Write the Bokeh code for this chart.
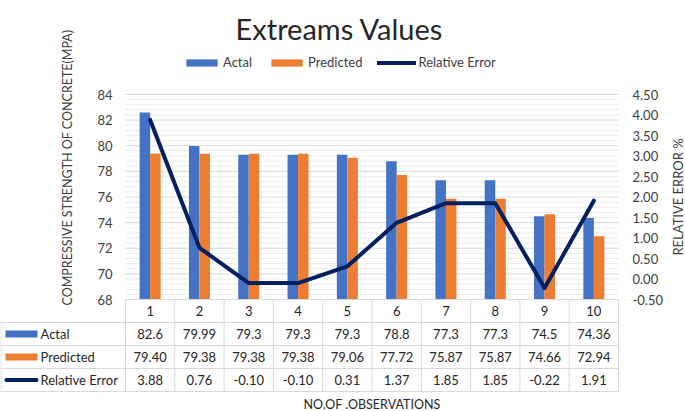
from bokeh.plotting import figure
from bokeh.models import Range1d, ColumnDataSource
from bokeh.transform import dodge
from bokeh.embed import file_html
from bokeh.resources import INLINE
from bokeh.core.properties import value

# ---------------- data ----------------
observations = [1, 2, 3, 4, 5, 6, 7, 8, 9, 10]
obs_labels = ["1", "2", "3", "4", "5", "6", "7", "8", "9", "10"]
actal = [82.6, 79.99, 79.3, 79.3, 79.3, 78.8, 77.3, 77.3, 74.5, 74.36]
predicted = [79.40, 79.38, 79.38, 79.38, 79.06, 77.72, 75.87, 75.87, 74.66, 72.94]
rel_error = [3.88, 0.76, -0.10, -0.10, 0.31, 1.37, 1.85, 1.85, -0.22, 1.91]
series_names = ["Actal", "Predicted", "Relative Error"]
title_text = "Extreams Values"
y_title = "COMPRESSIVE STRENGTH OF CONCRETE(MPA)"
y2_title = "RELATIVE ERROR %"
x_title = "NO.OF .OBSERVATIONS"
y_ticks = [68, 70, 72, 74, 76, 78, 80, 82, 84]
y_tick_labels = ["68", "70", "72", "74", "76", "78", "80", "82", "84"]
e_ticks = [-0.5, 0.0, 0.5, 1.0, 1.5, 2.0, 2.5, 3.0, 3.5, 4.0, 4.5]
e_tick_labels = ["-0.50", "0.00", "0.50", "1.00", "1.50", "2.00", "2.50", "3.00", "3.50", "4.00", "4.50"]
minor_per_major = 5

# ---------------- style / layout ----------------
BLUE = "#4472C4"
ORANGE = "#ED7D31"
NAVY = "#002060"
GRID = "#D9D9D9"
MINOR = "#EDEDED"
TXT = "#404040"
CELL = "#262626"
FONT = "Lato"

W, H = 685, 411
N = len(observations)
LEFT = 125          # left edge of the plot area / first table column (px)
COL_W = 49.3        # width of one category (px)
PLOT_TOP, PLOT_BOT = 94, 299
ROW_H = 23
BAR_W = 0.213

y_min, y_max = y_ticks[0], y_ticks[-1]
e_min, e_max = e_ticks[0], e_ticks[-1]
X_START = 0.5 - LEFT / COL_W
X_END = X_START + W / COL_W
PX_Y = (PLOT_BOT - PLOT_TOP) / (y_max - y_min)
PX_E = (PLOT_BOT - PLOT_TOP) / (e_max - e_min)

src = ColumnDataSource(dict(x=observations, actal=actal, predicted=predicted, err=rel_error))

p = figure(width=W, height=H, output_backend="svg", toolbar_location=None,
           x_range=Range1d(X_START, X_END),
           y_range=Range1d(y_min - (H - PLOT_BOT) / PX_Y, y_max + PLOT_TOP / PX_Y),
           min_border_left=0, min_border_right=0, min_border_top=0, min_border_bottom=0,
           x_axis_location=None, y_axis_location=None)
p.outline_line_color = None
p.grid.visible = False
p.extra_y_ranges = {"err": Range1d(e_min - (H - PLOT_BOT) / PX_E, e_max + PLOT_TOP / PX_E),
                    "px": Range1d(H, 0)}
p.extra_x_ranges = {"px": Range1d(0, W)}

# gridlines (major + minor) of the value axis
step = y_ticks[1] - y_ticks[0]
minor = [y_min + i * step / minor_per_major for i in range((len(y_ticks) - 1) * minor_per_major)
         if i % minor_per_major != 0]
p.segment(x0=0.5, x1=N + 0.5, y0=minor, y1=minor, line_color=MINOR, line_width=1)
p.segment(x0=0.5, x1=N + 0.5, y0=y_ticks, y1=y_ticks, line_color=GRID, line_width=1)

# bars and line
p.vbar(x=dodge("x", -BAR_W / 2, range=p.x_range), top="actal", bottom=y_min, width=BAR_W,
       source=src, fill_color=BLUE, line_color=None, legend_label=series_names[0])
p.vbar(x=dodge("x", BAR_W / 2, range=p.x_range), top="predicted", bottom=y_min, width=BAR_W,
       source=src, fill_color=ORANGE, line_color=None, legend_label=series_names[1])
p.line(x="x", y="err", source=src, y_range_name="err", line_width=4, line_color=NAVY,
       line_join="round", line_cap="round", legend_label=series_names[2])

# axis tick labels
tick_kw = dict(text_font=value(FONT), text_font_size="13px", text_color=TXT,
               text_baseline="middle")
p.text(x=[0.5 - 13 / COL_W] * len(y_ticks), y=y_ticks, text=y_tick_labels,
       text_align="right", **tick_kw)
p.text(x=[N + 0.5 + 14 / COL_W] * len(e_ticks), y=e_ticks, text=e_tick_labels,
       y_range_name="err", text_align="left", **tick_kw)

# titles
p.text(x=[339], y=[28], text=[title_text], x_range_name="px", y_range_name="px",
       text_font=value(FONT), text_font_size="29px", text_color=CELL,
       text_align="center", text_baseline="alphabetic")
p.text(x=[67], y=[167], text=[y_title], x_range_name="px", y_range_name="px",
       angle=90, angle_units="deg", text_font=value(FONT), text_font_size="12.5px",
       text_color=TXT, text_align="center", text_baseline="middle")
p.text(x=[677], y=[(PLOT_TOP + PLOT_BOT) / 2], text=[y2_title], x_range_name="px",
       y_range_name="px", angle=90, angle_units="deg", text_font=value(FONT),
       text_font_size="13px", text_color=TXT, text_align="center", text_baseline="middle")

# legend
lg = p.legend[0]
lg.orientation = "horizontal"
lg.location = (182, H - 62 - 8)
lg.border_line_color = None
lg.background_fill_alpha = 0
lg.padding = 0
lg.margin = 0
lg.spacing = 15
lg.glyph_width = 39
lg.glyph_height = 9
lg.label_height = 16
lg.label_standoff = 2
lg.label_text_font = FONT
lg.label_text_font_size = "13px"
lg.label_text_color = TXT

# ---------------- data table ----------------
row_top = [PLOT_BOT + i * ROW_H for i in range(5)]
row_mid = [t + ROW_H / 2 for t in row_top[:4]]
tbl_bottom = row_top[4]
# horizontal borders
p.segment(x0=[0.5] + [X_START] * 4, x1=[N + 0.5] * 5, y0=row_top, y1=row_top,
          y_range_name="px", line_color=GRID, line_width=1)
# vertical borders
vx = [X_START + 0.5 / COL_W] + [o + 0.5 for o in [0] + observations]
vy0 = [row_top[1]] + [row_top[0]] * (N + 1)
p.segment(x0=vx, x1=vx, y0=vy0, y1=[tbl_bottom] * len(vx), y_range_name="px",
          line_color=GRID, line_width=1)

cell_kw = dict(text_font=value(FONT), text_font_size="13px", text_color=CELL,
               text_align="center", text_baseline="middle", y_range_name="px")
p.text(x=observations, y=[row_mid[0]] * N, text=obs_labels, **cell_kw)
p.text(x=observations, y=[row_mid[1]] * N, text=[f"{v:g}" for v in actal], **cell_kw)
p.text(x=observations, y=[row_mid[2]] * N, text=[f"{v:.2f}" for v in predicted], **cell_kw)
p.text(x=observations, y=[row_mid[3]] * N, text=[f"{v:.2f}" for v in rel_error], **cell_kw)

# legend keys of the table
p.rect(x=[21, 21], y=row_mid[1:3], width=32, height=7, x_range_name="px", y_range_name="px",
       width_units="screen", height_units="screen", fill_color=[BLUE, ORANGE], line_color=None)
p.segment(x0=[6], x1=[36], y0=[row_mid[3]], y1=[row_mid[3]], x_range_name="px",
          y_range_name="px", line_color=NAVY, line_width=4, line_cap="round")
p.text(x=[40] * 3, y=row_mid[1:], text=series_names, x_range_name="px", y_range_name="px",
       text_font=value(FONT), text_font_size="13px", text_color=CELL,
       text_align="left", text_baseline="middle")

# category axis title
p.text(x=[(N + 1) / 2], y=[404], text=[x_title], y_range_name="px",
       text_font=value(FONT), text_font_size="12.5px", text_color=CELL,
       text_align="center", text_baseline="middle")

open("out.html", "w").write(file_html(p, INLINE, title=title_text))
